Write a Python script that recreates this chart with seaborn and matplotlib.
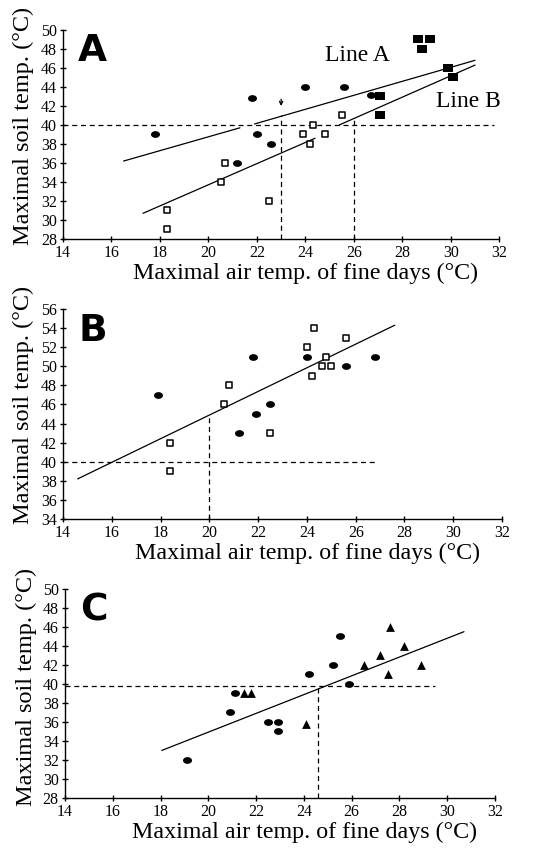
import numpy as np
import pandas as pd
import matplotlib
matplotlib.use('Agg')
import matplotlib.pyplot as plt
from matplotlib.path import Path
import seaborn as sns

# ---- panel A ----
a_circle_x = [17.8, 21.8, 22.0, 21.2, 22.6, 24.0, 25.6, 26.7]
a_circle_y = [39.0, 42.8, 39.0, 36.0, 38.0, 44.0, 44.0, 43.1]
a_open_x = [18.3, 18.3, 20.5, 20.7, 22.5, 23.9, 24.3, 24.2, 24.8, 25.5]
a_open_y = [31.0, 29.0, 34.0, 36.0, 32.0, 39.0, 40.0, 38.0, 39.0, 41.0]
a_filled_x = [28.65, 29.15, 28.8, 29.9, 30.1, 27.1, 27.1]
a_filled_y = [49.0, 49.0, 48.0, 46.0, 45.0, 43.0, 41.0]
a_lineA_x = [16.5, 21.3, np.nan, 21.9, 31.0]
a_lineA_y = [36.2, 39.7, np.nan, 40.1, 46.8]
a_lineB_x = [17.3, 24.4, np.nan, 25.4, 31.0]
a_lineB_y = [30.7, 38.6, np.nan, 40.0, 46.3]
a_thresh_x = [23.0, 26.0]
a_thresh_top = [41.0, 40.8]

# ---- panel B ----
b_circle_x = [17.9, 21.8, 24.0, 26.8, 25.6, 22.5, 21.9, 21.2]
b_circle_y = [47.0, 51.0, 51.0, 51.0, 50.0, 46.0, 45.0, 43.0]
b_open_x = [24.3, 24.0, 25.6, 24.8, 24.6, 25.0, 24.2, 20.8, 20.6, 22.5, 18.4, 18.4]
b_open_y = [54.0, 52.0, 53.0, 51.0, 50.0, 50.0, 49.0, 48.0, 46.0, 43.0, 42.0, 39.0]
b_line_x = [14.6, 27.6]
b_line_y = [38.2, 54.3]
b_thresh_x = 20.0
b_thresh_top = 44.8

# ---- panel C ----
c_circle_x = [19.1, 20.9, 21.1, 22.5, 22.9, 22.9, 24.2, 25.2, 25.5, 25.9]
c_circle_y = [32.0, 37.0, 39.0, 36.0, 36.0, 35.0, 41.0, 42.0, 45.0, 40.0]
c_tri_x = [21.5, 21.8, 24.1, 26.5, 27.2, 27.6, 27.5, 28.2, 28.9]
c_tri_y = [39.0, 39.0, 35.8, 42.0, 43.0, 46.0, 41.0, 44.0, 42.0]
c_line_x = [18.05, 30.7]
c_line_y = [33.0, 45.5]
c_thresh_x = 24.6
c_thresh_top = 39.6

xlabel = 'Maximal air temp. of fine days (°C)'
ylabel = 'Maximal soil temp. (°C)'

sns.set_style('ticks')
plt.rcParams['font.family'] = ['Liberation Serif', 'DejaVu Serif']
plt.rcParams['axes.linewidth'] = 1.0
plt.rcParams['text.color'] = 'black'
plt.rcParams['axes.labelcolor'] = 'black'
plt.rcParams['axes.edgecolor'] = 'black'

# slightly flattened marker shapes, like the printed figure
_t = np.linspace(0, 2 * np.pi, 41)
dot = Path(np.column_stack([np.cos(_t), 0.75 * np.sin(_t)]), closed=True)
box = Path([(-1, -0.75), (1, -0.75), (1, 0.75), (-1, 0.75), (-1, -0.75)], closed=True)

fig = plt.figure(figsize=(5.6, 8.48), dpi=100)
ax_a = fig.add_axes([0.1125, 0.7182, 0.779, 0.2465])
ax_b = fig.add_axes([0.1125, 0.388, 0.784, 0.2476])
ax_c = fig.add_axes([0.116, 0.059, 0.768, 0.2465])


def style_axes(ax, ylo, yhi, letter, ylab_y):
    ax.set_xlim(14, 32)
    ax.set_ylim(ylo, yhi)
    ax.set_xticks(np.arange(14, 33, 2))
    ax.set_yticks(np.arange(ylo, yhi + 1, 2))
    ax.tick_params(direction='inout', length=5, width=1, labelsize=11.5, pad=2,
                   color='black', labelcolor='black')
    sns.despine(ax=ax)
    ax.set_xlabel(xlabel, fontsize=17.3)
    ax.set_ylabel(ylabel, fontsize=17.5)
    ax.xaxis.set_label_coords(0.557, -0.115)
    ax.yaxis.set_label_coords(-0.066, ylab_y)
    ax.text(0.035, 0.85, letter, transform=ax.transAxes, fontsize=27,
            fontweight='heavy', family='DejaVu Sans', va='baseline', ha='left')


def hline(ax, y, x0, x1):
    ax.plot([x0, x1], [y, y], color='black', lw=0.9, ls=(0, (4, 3)))


def vline(ax, x, y0, y1):
    ax.plot([x, x], [y0, y1], color='black', lw=0.9, ls=(0, (4, 3)))


def dots(ax, x, y):
    sns.scatterplot(x=x, y=y, ax=ax, marker=dot, s=42, color='black',
                    edgecolor='black', linewidth=0, zorder=3)


def open_boxes(ax, x, y):
    sns.scatterplot(x=x, y=y, ax=ax, marker=box, s=24, facecolor='white',
                    edgecolor='black', linewidth=1.1, zorder=3)


# panel A
dots(ax_a, a_circle_x, a_circle_y)
open_boxes(ax_a, a_open_x, a_open_y)
sns.scatterplot(x=a_filled_x, y=a_filled_y, ax=ax_a, marker=box, s=54,
                color='black', edgecolor='black', linewidth=0, zorder=3)
ax_a.plot(a_lineA_x, a_lineA_y, color='black', lw=0.9)
ax_a.plot(a_lineB_x, a_lineB_y, color='black', lw=0.9)
hline(ax_a, 40, 14, 31.8)
for xv, yt in zip(a_thresh_x, a_thresh_top):
    vline(ax_a, xv, 28, yt)
ax_a.annotate('', xy=(23.0, 41.7), xytext=(23.0, 43.0),
              arrowprops=dict(arrowstyle='->', color='black', lw=0.9,
                              mutation_scale=6))
ax_a.text(24.8, 46.7, 'Line A', fontsize=17)
ax_a.text(29.4, 41.9, 'Line B', fontsize=17)
style_axes(ax_a, 28, 50, 'A', 0.54)

# panel B
dots(ax_b, b_circle_x, b_circle_y)
open_boxes(ax_b, b_open_x, b_open_y)
ax_b.plot(b_line_x, b_line_y, color='black', lw=0.9)
hline(ax_b, 40, 14, 26.8)
vline(ax_b, b_thresh_x, 34, b_thresh_top)
style_axes(ax_b, 34, 56, 'B', 0.543)

# panel C
dots(ax_c, c_circle_x, c_circle_y)
sns.scatterplot(x=c_tri_x, y=c_tri_y, ax=ax_c, marker='^', s=40,
                color='black', edgecolor='black', linewidth=0, zorder=3)
ax_c.plot(c_line_x, c_line_y, color='black', lw=0.9)
hline(ax_c, 39.8, 14, 29.5)
vline(ax_c, c_thresh_x, 28, c_thresh_top)
style_axes(ax_c, 28, 50, 'C', 0.53)

fig.savefig('out.png', dpi=100)
